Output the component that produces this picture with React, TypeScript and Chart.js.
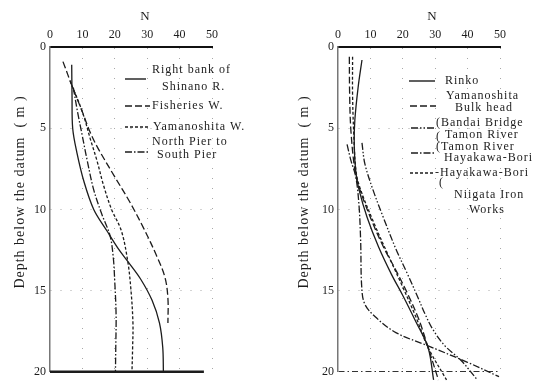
import React, { useEffect, useRef } from "react";
import { Chart, registerables } from "chart.js";

Chart.register(...registerables);

// ---------- shared axes ----------
const N_MIN = 0;
const N_MAX = 50;
const N_STEP = 10;
const DEPTH_MIN = 0;
const DEPTH_MAX = 20;
const DEPTH_STEP = 5;
const N_TITLE = "N";
const DEPTH_TITLE = "Depth below the datum  ( m )";

// ---------- left panel data (N vs depth, m) ----------
const rightBankN = [6.7, 6.8, 7.0, 8.3, 10.5, 13.5, 17.5, 21.0, 24.0, 28.0, 31.5, 33.8, 34.8, 35.0];
const rightBankDepth = [1.1, 3.0, 5.0, 6.5, 8.3, 10.0, 11.3, 12.4, 13.2, 14.3, 15.6, 17.0, 18.5, 20.0];

const fisheriesN = [4.0, 7.0, 10.0, 12.5, 15.0, 20.0, 24.5, 29.0, 33.0, 35.5, 36.4, 36.4];
const fisheriesDepth = [0.9, 2.5, 4.0, 5.3, 6.3, 8.0, 9.5, 11.2, 12.9, 14.2, 15.5, 17.0];

const yamanoshitaWN = [6.2, 10.0, 12.5, 14.5, 16.5, 19.0, 22.0, 24.0, 25.0, 25.6, 25.5, 25.3];
const yamanoshitaWDepth = [2.1, 4.0, 5.7, 7.0, 8.5, 10.0, 11.3, 13.2, 15.0, 17.0, 18.5, 20.0];

const northPierN = [7.2, 8.5, 10.0, 11.5, 13.5, 16.0, 18.5, 19.5, 20.0, 20.4, 20.3, 20.2];
const northPierDepth = [2.5, 4.0, 5.5, 7.0, 8.8, 10.3, 11.6, 12.9, 14.5, 16.5, 18.5, 20.0];

const leftLabels = [
  ["Right bank of", "Shinano R."],
  ["Fisheries W."],
  ["Yamanoshita W."],
  ["North Pier to", "South Pier"],
];

// ---------- right panel data ----------
const rinkoN = [7.4, 6.2, 5.2, 5.0, 5.5, 6.5, 9.0, 12.5, 16.5, 20.0, 24.0, 27.8, 29.5];
const rinkoDepth = [0.8, 2.5, 4.5, 6.0, 7.7, 8.8, 10.5, 12.3, 14.0, 15.3, 16.9, 18.5, 20.5];

const bulkHeadN = [3.5, 3.6, 4.0, 5.3, 6.8, 10.0, 14.0, 18.0, 21.5, 25.0, 27.8, 31.0];
const bulkHeadDepth = [0.6, 3.0, 5.2, 7.7, 8.8, 10.5, 12.3, 13.8, 15.2, 16.8, 18.5, 20.5];

const bandaiN = [7.4, 8.3, 10.8, 14.0, 18.0, 21.5, 24.4, 27.0, 29.3, 33.0, 38.0, 43.0];
const bandaiDepth = [5.9, 7.2, 8.8, 10.5, 12.5, 14.0, 15.3, 16.5, 17.4, 18.4, 19.3, 20.5];

const tamonN = [2.8, 4.0, 5.5, 6.5, 7.0, 7.3, 8.2, 11.4, 18.0, 27.8, 39.8, 49.7];
const tamonDepth = [6.0, 7.0, 8.0, 9.8, 12.0, 14.7, 15.8, 16.6, 17.6, 18.4, 19.4, 20.3];

const hayakawaN = [4.5, 4.5, 4.9, 5.6, 7.0, 11.0, 15.0, 19.8, 24.0, 27.8, 33.5];
const hayakawaDepth = [0.6, 3.0, 5.5, 7.7, 8.8, 10.8, 12.6, 14.7, 16.6, 18.5, 20.5];

const rightLabels = [
  ["Rinko"],
  ["Yamanoshita", "Bulk head"],
  ["(Bandai Bridge", "(", "Tamon River"],
  ["(Tamon River", "Hayakawa-Bori"],
  ["-Hayakawa-Bori", "(", "Niigata Iron", "Works"],
];

// ---------- styling ----------
const FONT = '"Liberation Serif", "DejaVu Serif", serif';
const INK = "#1c1c1c";
const GRID = "#a8a8a8";
const DASH_SOLID: number[] = [];
const DASH_LONG = [7, 3];
const DASH_SHORT = [3, 2];
const DASH_DOT = [7, 2, 1.5, 2];
const DASH_DOT2 = [7, 2, 1.5, 2, 1.5, 2];

function series(n: number[], d: number[], dash: number[], label: string) {
  return {
    label,
    data: n.map((v, i) => ({ x: v, y: d[i] })),
    borderColor: INK,
    borderWidth: 1.3,
    borderDash: dash,
    pointRadius: 0,
    tension: 0.35,
    fill: false,
    clip: false as any,
  };
}

const decoPlugin = {
  id: "deco",
  afterDraw(chart: any, _args: any, opts: any) {
    const ctx: CanvasRenderingContext2D = chart.ctx;
    const xs = chart.scales.x;
    const ys = chart.scales.y;
    ctx.save();
    ctx.strokeStyle = INK;
    ctx.fillStyle = INK;

    if (opts.bottomLine) {
      ctx.lineWidth = 2.5;
      ctx.setLineDash([]);
      ctx.beginPath();
      const yb = ys.getPixelForValue(DEPTH_MAX);
      ctx.moveTo(xs.getPixelForValue(N_MIN), yb);
      ctx.lineTo(xs.getPixelForValue(opts.bottomLine), yb);
      ctx.stroke();
    }

    // axis titles
    ctx.textAlign = "center";
    ctx.textBaseline = "middle";
    ctx.font = `13px ${FONT}`;
    ctx.fillText(N_TITLE, opts.nTitleX, 17);

    ctx.save();
    ctx.translate(opts.yTitleX, opts.yTitleY);
    ctx.rotate(-Math.PI / 2);
    ctx.font = `14px ${FONT}`;
    (ctx as any).letterSpacing = "1px";
    ctx.fillText(DEPTH_TITLE, 0, 0);
    ctx.restore();

    // legend
    ctx.textAlign = "left";
    ctx.font = `12px ${FONT}`;
    (ctx as any).letterSpacing = "1px";
    const dsets = chart.data.datasets;
    opts.legend.forEach((item: any, i: number) => {
      ctx.lineWidth = 1.4;
      ctx.setLineDash(dsets[i].borderDash || []);
      ctx.beginPath();
      ctx.moveTo(item.x1, item.y);
      ctx.lineTo(item.x2, item.y);
      ctx.stroke();
      ctx.setLineDash([]);
      opts.labels[i].forEach((s: string, j: number) => {
        ctx.fillText(s, item.tx[j], item.ty[j]);
      });
    });
    ctx.restore();
  },
};

function makeOptions(yWidth: number, padRight: number, deco: any, bottomDashDot: boolean) {
  const tickFont = { family: FONT, size: 12 };
  return {
    animation: false as const,
    responsive: false,
    maintainAspectRatio: false,
    layout: { padding: { left: 0, top: 0, right: padRight, bottom: 10 } },
    plugins: {
      legend: { display: false },
      tooltip: { enabled: false },
      deco,
    },
    scales: {
      x: {
        type: "linear" as const,
        position: "top" as const,
        min: N_MIN,
        max: N_MAX,
        afterFit: (s: any) => {
          s.height = 47;
        },
        ticks: { stepSize: N_STEP, font: tickFont, color: INK, padding: 5, maxRotation: 0, autoSkip: false },
        grid: {
          drawTicks: false,
          lineWidth: 1,
          color: (c: any) => (c.tick && c.tick.value === N_MIN ? "rgba(0,0,0,0)" : GRID),
        },
        border: { display: true, color: "#111", width: 2, dash: [1, 9] },
      },
      y: {
        type: "linear" as const,
        position: "left" as const,
        reverse: true,
        min: DEPTH_MIN,
        max: DEPTH_MAX,
        afterFit: (s: any) => {
          s.width = yWidth;
        },
        ticks: { stepSize: DEPTH_STEP, font: tickFont, color: INK, padding: 4 },
        grid: {
          drawTicks: false,
          lineWidth: 1,
          color: (c: any) => {
            const v = c.tick ? c.tick.value : null;
            if (v === DEPTH_MIN) return "rgba(0,0,0,0)";
            if (v === DEPTH_MAX) return bottomDashDot ? "#333" : "rgba(0,0,0,0)";
            return GRID;
          },
        },
        border: {
          display: true,
          color: "#777",
          width: 1.5,
          dash: (c: any) => (c.tick && c.tick.value === DEPTH_MAX ? [6, 3, 1.5, 3] : [1, 9]),
        },
      },
    },
  };
}

function Panel({ left, datasets, options }: { left: number; datasets: any[]; options: any }) {
  const ref = useRef<HTMLCanvasElement>(null);
  useEffect(() => {
    const chart = new Chart(ref.current as HTMLCanvasElement, {
      type: "line",
      data: { datasets },
      options,
      plugins: [decoPlugin as any],
    });
    return () => chart.destroy();
  }, []);
  return (
    <canvas
      ref={ref}
      width={272}
      height={383}
      style={{ position: "absolute", left, top: 0, width: 272, height: 383, display: "block" }}
    />
  );
}

export default function App() {
  const leftDatasets = [
    series(rightBankN, rightBankDepth, DASH_SOLID, leftLabels[0].join(" ")),
    series(fisheriesN, fisheriesDepth, DASH_LONG, leftLabels[1].join(" ")),
    series(yamanoshitaWN, yamanoshitaWDepth, DASH_SHORT, leftLabels[2].join(" ")),
    series(northPierN, northPierDepth, DASH_DOT, leftLabels[3].join(" ")),
  ];
  const rightDatasets = [
    series(rinkoN, rinkoDepth, DASH_SOLID, rightLabels[0].join(" ")),
    series(bulkHeadN, bulkHeadDepth, DASH_LONG, rightLabels[1].join(" ")),
    series(bandaiN, bandaiDepth, DASH_DOT2, rightLabels[2].join(" ")),
    series(tamonN, tamonDepth, DASH_DOT, rightLabels[3].join(" ")),
    series(hayakawaN, hayakawaDepth, DASH_SHORT, rightLabels[4].join(" ")),
  ];

  const leftDeco = {
    bottomLine: 47.5,
    nTitleX: 145,
    yTitleX: 20,
    yTitleY: 192,
    labels: leftLabels,
    legend: [
      { x1: 125, x2: 146, y: 79, tx: [152, 162], ty: [70, 87] },
      { x1: 125, x2: 150, y: 106, tx: [152], ty: [106] },
      { x1: 125, x2: 150, y: 127, tx: [153], ty: [127] },
      { x1: 125, x2: 148, y: 152, tx: [152, 157], ty: [142, 155] },
    ],
  };
  const rightDeco = {
    bottomLine: 0,
    nTitleX: 160,
    yTitleX: 32,
    yTitleY: 192,
    labels: rightLabels,
    legend: [
      { x1: 137, x2: 163, y: 81, tx: [173], ty: [81] },
      { x1: 138, x2: 164, y: 106, tx: [174, 183], ty: [96, 108] },
      { x1: 139, x2: 163, y: 128, tx: [164, 164, 173], ty: [123, 137, 135] },
      { x1: 139, x2: 163, y: 153, tx: [164, 172], ty: [147, 158] },
      { x1: 138, x2: 163, y: 173, tx: [163, 167, 182, 197], ty: [173, 183, 195, 210] },
    ],
  };

  return (
    <div style={{ position: "absolute", left: 0, top: 0, width: 544, height: 383, background: "#fff", overflow: "hidden" }}>
      <Panel left={0} datasets={leftDatasets} options={makeOptions(50, 60, leftDeco, false)} />
      <Panel left={272} datasets={rightDatasets} options={makeOptions(66, 44, rightDeco, true)} />
    </div>
  );
}
